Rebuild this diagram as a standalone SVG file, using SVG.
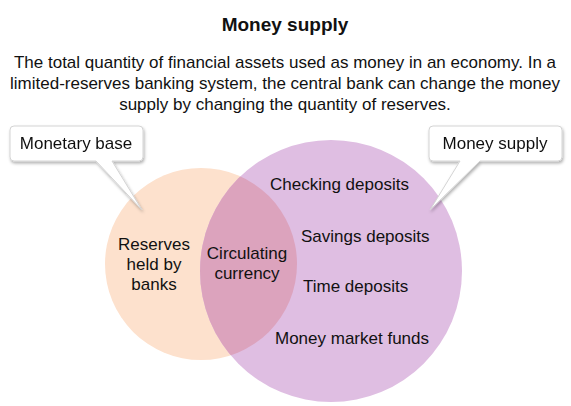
<svg xmlns="http://www.w3.org/2000/svg" width="571" height="406" viewBox="0 0 571 406">
<defs>
<style>
text{font-family:"Liberation Sans",Arial,sans-serif;fill:#111;}
.t{font-size:19px;font-weight:bold;}
.d{font-size:17px;}
.l{font-size:17px;}
.box{fill:#fff;stroke:#d4d4d4;stroke-width:1;}
</style>
<filter id="sh" x="-20%" y="-20%" width="140%" height="150%">
<feDropShadow dx="1" dy="2" stdDeviation="1.5" flood-color="#000" flood-opacity="0.3"/>
</filter>
<clipPath id="cl"><circle cx="201" cy="264" r="96"/></clipPath>
</defs>
<text class="t" x="285" y="31" text-anchor="middle">Money supply</text>
<text class="d" x="285" y="68" text-anchor="middle">The total quantity of financial assets used as money in an economy. In a</text>
<text class="d" x="285" y="89" text-anchor="middle">limited-reserves banking system, the central bank can change the money</text>
<text class="d" x="285" y="110" text-anchor="middle">supply by changing the quantity of reserves.</text>
<g id="monetary-base-set">
<circle cx="201" cy="264" r="96" fill="#fde1cd"/>
</g>
<g id="money-supply-set">
<circle cx="331" cy="271" r="131" fill="#dfbee2"/>
<circle cx="331" cy="271" r="131" fill="#dca3bd" clip-path="url(#cl)"/>
</g>
<g id="labels">
<text class="l" x="154" y="250" text-anchor="middle">Reserves</text>
<text class="l" x="154" y="270" text-anchor="middle">held by</text>
<text class="l" x="154" y="290" text-anchor="middle">banks</text>
<text class="l" x="247" y="259" text-anchor="middle">Circulating</text>
<text class="l" x="247" y="279" text-anchor="middle">currency</text>
<text class="l" x="270" y="190">Checking deposits</text>
<text class="l" x="301" y="242">Savings deposits</text>
<text class="l" x="303" y="292">Time deposits</text>
<text class="l" x="275" y="344">Money market funds</text>
</g>
<g id="callout-monetary-base" filter="url(#sh)">
<path class="box" d="M14,126 H139 A4,4 0 0 1 143,130 V157 A4,4 0 0 1 139,161 H112 L142,210 L96,161 H14 A4,4 0 0 1 10,157 V130 A4,4 0 0 1 14,126 Z"/>
<text class="l" x="76" y="149" text-anchor="middle">Monetary base</text>
</g>
<g id="callout-money-supply" filter="url(#sh)">
<path class="box" d="M433,126 H558 A4,4 0 0 1 562,130 V157 A4,4 0 0 1 558,161 H480 L430,210 L460,161 H433 A4,4 0 0 1 429,157 V130 A4,4 0 0 1 433,126 Z"/>
<text class="l" x="495" y="149" text-anchor="middle">Money supply</text>
</g>
</svg>
